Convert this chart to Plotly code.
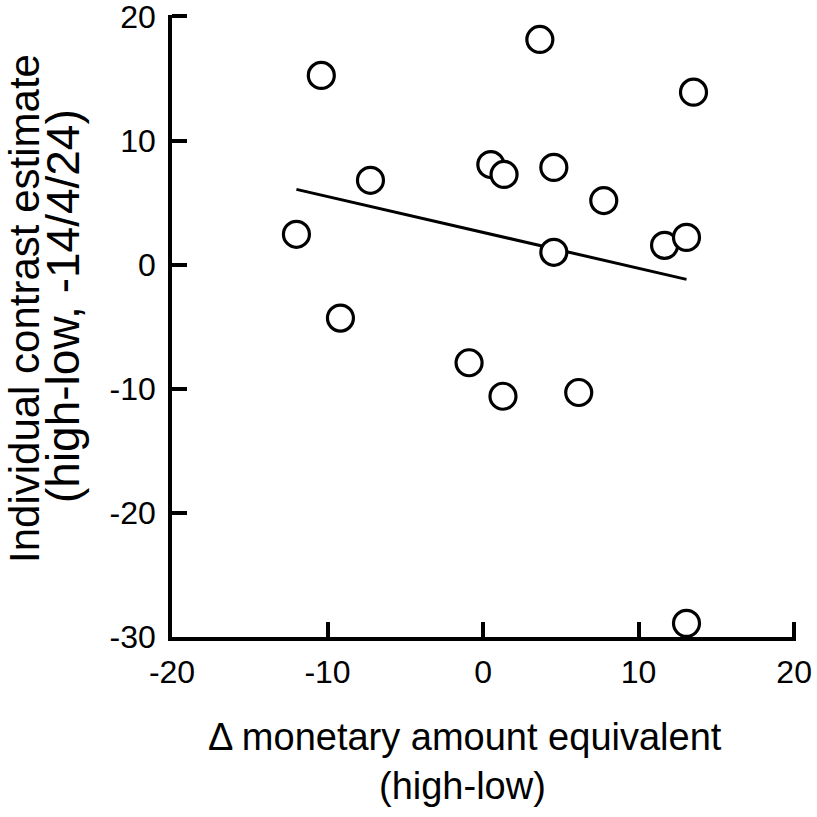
import plotly.graph_objects as go

# Data
x_vals = [-12.0, -10.4, -9.17, -7.24, -0.9, 0.5, 1.35, 1.28, 3.65, 4.55, 4.55, 6.15, 7.76, 11.67, 13.08, 13.53, 13.08]
y_vals = [2.45, 15.25, -4.3, 6.8, -7.9, 8.07, 7.27, -10.6, 18.15, 7.84, 1.0, -10.3, 5.17, 1.56, 2.2, 13.9, -28.9]

fit_x = [-12.0, 13.08]
fit_y = [6.07, -1.18]

x_ticks = [-20, -10, 0, 10, 20]
y_ticks = [-30, -20, -10, 0, 10, 20]

x_title = ["\u0394 monetary amount equivalent", "(high-low)"]
y_title = ["Individual contrast estimate", "(high-low, -14/4/24)"]

FONT = "Liberation Sans, Arial, sans-serif"
W, H = 817, 817
# plot area in page pixels
L, R, T, B = 172, 796, 15, 637

def px_x(p):
    return (p - L) / (R - L)

def px_y(p):
    return (B - p) / (B - T)

fig = go.Figure()
fig.add_trace(go.Scatter(x=fit_x, y=fit_y, mode="lines",
                         line=dict(color="black", width=3), showlegend=False,
                         cliponaxis=False))
fig.add_trace(go.Scatter(x=x_vals, y=y_vals, mode="markers",
                         marker=dict(size=26, color="white", symbol="circle",
                                     line=dict(color="black", width=3.2)),
                         showlegend=False, cliponaxis=False))

axis_common = dict(showgrid=False, zeroline=False, showline=True, linecolor="black",
                   linewidth=3.5, ticks="inside", ticklen=15, tickwidth=3.5,
                   tickcolor="black", tickfont=dict(family=FONT, size=32, color="black"),
                   ticklabeloverflow="allow", automargin=False, mirror=False)

fig.update_xaxes(range=[-20, 20.12], tickvals=x_ticks, ticktext=[str(v) for v in x_ticks],
                 ticklabelstandoff=4, **axis_common)
fig.update_yaxes(range=[-30, 20.12], tickvals=y_ticks, ticktext=[str(v) for v in y_ticks],
                 ticklabelstandoff=6, **axis_common)

annotations = [
    dict(text=x_title[0], x=px_x(465), y=px_y(737), xref="paper", yref="paper",
         showarrow=False, xanchor="center", yanchor="middle",
         font=dict(family=FONT, size=38, color="black")),
    dict(text=x_title[1], x=px_x(462), y=px_y(786), xref="paper", yref="paper",
         showarrow=False, xanchor="center", yanchor="middle",
         font=dict(family=FONT, size=38, color="black")),
    dict(text=y_title[0], x=px_x(24), y=px_y(309), xref="paper", yref="paper",
         showarrow=False, xanchor="center", yanchor="middle", textangle=-90,
         font=dict(family=FONT, size=42, color="black")),
    dict(text=y_title[1], x=px_x(63), y=px_y(306), xref="paper", yref="paper",
         showarrow=False, xanchor="center", yanchor="middle", textangle=-90,
         font=dict(family=FONT, size=46, color="black")),
]

fig.update_layout(width=W, height=H,
                  margin=dict(l=L, r=W - R, t=T, b=H - B, autoexpand=False),
                  paper_bgcolor="white", plot_bgcolor="white",
                  annotations=annotations)

fig.write_html("out.html", config={"displayModeBar": False},
               post_script="document.body.style.margin='0';document.body.style.overflow='hidden';")
